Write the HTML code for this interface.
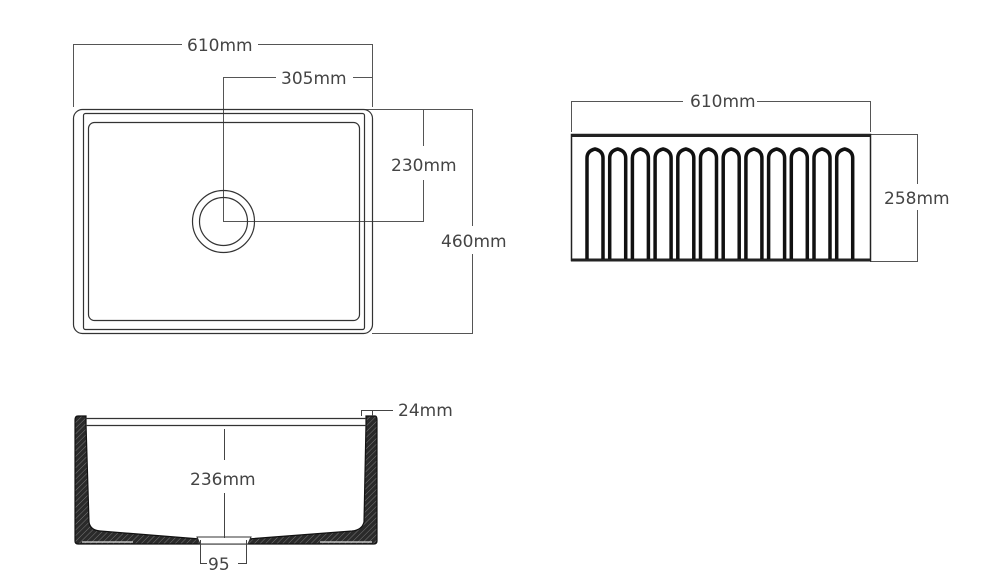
<!DOCTYPE html>
<html><head><meta charset="utf-8"><style>
html,body{margin:0;padding:0;background:#fff;}
svg{display:block;}
text{font-family:"DejaVu Sans","Liberation Sans",sans-serif;fill:#444;font-size:17px;}
</style></head><body>
<svg width="1000" height="578" viewBox="0 0 1000 578" xmlns="http://www.w3.org/2000/svg">
<defs>
<pattern id="h" width="4" height="4" patternUnits="userSpaceOnUse" patternTransform="rotate(45)">
<rect width="4" height="4" fill="#2a2a2a"/><line x1="0" y1="0" x2="0" y2="4" stroke="#777" stroke-width="1"/>
</pattern>
</defs>
<g fill="none" stroke="#555" stroke-width="1">
<!-- top view dims -->
<path d="M73.5 107V44.5H182M258 44.5H372.5V107"/>
<path d="M223.5 221V77.5H276M353 77.5H372.5"/>
<path d="M365 109.5H423.5V146M423.5 180V221.5H223"/>
<path d="M372 109.5H472.5V226M472.5 254V333.5H372"/>
</g>
<g fill="none" stroke="#333" stroke-width="1.2">
<rect x="73.5" y="109.5" width="299" height="224" rx="9"/>
<rect x="83.5" y="113.5" width="281" height="216" rx="2"/>
<rect x="88.5" y="122.5" width="271" height="198" rx="6"/>
<circle cx="223.5" cy="221.5" r="31"/>
<circle cx="223.5" cy="221.5" r="24"/>
</g>
<text x="187" y="51">610mm</text>
<text x="281" y="84">305mm</text>
<text x="391" y="171">230mm</text>
<text x="441" y="247">460mm</text>
<!-- front view -->
<g fill="none" stroke="#555" stroke-width="1">
<path d="M571.5 132V101.5H683M757 101.5H870.5V132"/>
<path d="M870 134.5H917.5V184M917.5 210V261.5H870"/>
</g>
<rect x="571.5" y="134.5" width="299" height="126" fill="none" stroke="#222" stroke-width="1.5"/>
<line x1="571" y1="135.5" x2="871" y2="135.5" stroke="#222" stroke-width="3"/>
<line x1="571" y1="260" x2="871" y2="260" stroke="#222" stroke-width="3"/>
<g fill="none" stroke="#111" stroke-width="3.5">
<path d="M587 259V158Q587 151 595 149Q603 151 603 158V259"/>
<path d="M609.7 259V158Q609.7 151 617.7 149Q625.7 151 625.7 158V259"/>
<path d="M632.4 259V158Q632.4 151 640.4 149Q648.4 151 648.4 158V259"/>
<path d="M655.1 259V158Q655.1 151 663.1 149Q671.1 151 671.1 158V259"/>
<path d="M677.8 259V158Q677.8 151 685.8 149Q693.8 151 693.8 158V259"/>
<path d="M700.5 259V158Q700.5 151 708.5 149Q716.5 151 716.5 158V259"/>
<path d="M723.2 259V158Q723.2 151 731.2 149Q739.2 151 739.2 158V259"/>
<path d="M745.9 259V158Q745.9 151 753.9 149Q761.9 151 761.9 158V259"/>
<path d="M768.6 259V158Q768.6 151 776.6 149Q784.6 151 784.6 158V259"/>
<path d="M791.3 259V158Q791.3 151 799.3 149Q807.3 151 807.3 158V259"/>
<path d="M814 259V158Q814 151 822 149Q830 151 830 158V259"/>
<path d="M836.7 259V158Q836.7 151 844.7 149Q852.7 151 852.7 158V259"/>
</g>
<text x="690" y="107">610mm</text>
<text x="884" y="204">258mm</text>
<!-- section -->
<path d="M78 416H86V424L89 522Q90 530 100 531L200 539H248L352 531Q362 530 364 522L366 424V416H375Q377 416 377 420V541Q377 544 374 544H78Q75 544 75 541V420Q75 416 78 416Z" fill="url(#h)" stroke="#111" stroke-width="1.2"/>
<g fill="none" stroke="#333" stroke-width="1.2">
<line x1="86" y1="418.5" x2="366" y2="418.5"/>
<line x1="86" y1="425.5" x2="366" y2="425.5"/>
<line x1="82" y1="542" x2="133" y2="542" stroke="#ddd"/>
<line x1="320" y1="542" x2="372" y2="542" stroke="#ddd"/>
</g>
<path d="M197 537H251L248 544H200Z" fill="#fff" stroke="#333" stroke-width="1"/>
<g fill="none" stroke="#444" stroke-width="1">
<path d="M224.5 429V460M224.5 493V538"/>
<path d="M200.5 540V563.5H207M238 563.5H246.5V540"/>
<path d="M361.5 416V410.5H393M372.5 410.5V416"/>
</g>
<text x="190" y="485">236mm</text>
<text x="208" y="570">95</text>
<text x="398" y="416">24mm</text>
</svg>
</body></html>
